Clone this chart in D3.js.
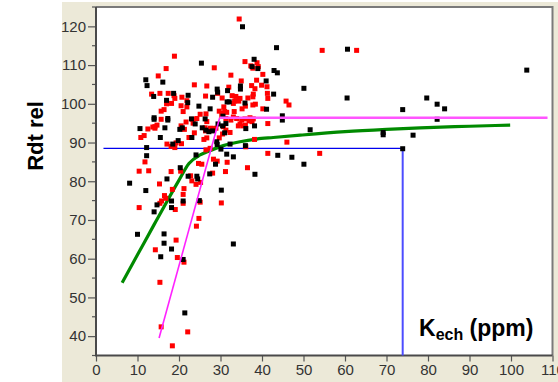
<!DOCTYPE html>
<html>
<head>
<meta charset="utf-8">
<script src="https://cdn.jsdelivr.net/npm/d3@7"></script>
<style>
  body { margin: 0; background: #fff; }
  svg { display: block; font-family: "Liberation Sans", Arial, sans-serif; }
</style>
</head>
<body>
<div id="chart"></div>
<script>
// tick values
var xTicks = [0, 10, 20, 30, 40, 50, 60, 70, 80, 90, 100, 110];
var yTicks = [40, 50, 60, 70, 80, 90, 100, 110, 120];
var yMinor = [35, 45, 55, 65, 75, 85, 95, 105, 115, 125];

// red points [K ppm, Rdt rel]
var redPts = [
  [18.9,112.3],[16.9,109.1],[15.0,107.2],[23.7,104.9],[13.4,102.5],[15.4,102.7],[17.4,102.7],
  [19.0,101.4],[18.8,102.1],[17.0,100.0],[18.2,100.1],[21.9,100.8],[20.5,99.5],[21.9,99.2],
  [21.0,98.0],[16.4,98.5],[15.7,98.1],[15.7,96.0],[21.7,95.3],[23.4,95.0],[20.5,94.3],
  [21.3,93.4],[13.7,94.0],[14.2,94.1],[14.2,93.7],[14.7,94.5],[12.5,93.5],[11.6,91.8],
  [10.8,91.3],[22.4,91.3],[23.7,92.5],[19.3,89.9],[17.1,89.6],[20.6,89.7],[18.1,89.0],
  [19.0,88.7],[11.8,85.0],[10.4,82.6],[12.7,82.7],[15.3,79.3],[18.1,82.5],[22.8,81.4],
  [23.1,80.1],[18.4,77.9],[21.2,78.1],[16.5,76.3],[16.8,75.6],[21.0,76.6],[15.8,74.9],
  [15.4,74.3],[19.1,72.7],[10.4,73.2],[19.3,64.8],[14.3,62.3],[19.6,60.3],[21.2,59.1],
  [24.2,68.4],[24.8,70.4],[15.4,53.9],[22.1,41.1],[15.7,42.4],[18.4,37.5],[21.0,74.3],
  [24.1,79.2],[25.1,74.6],[30.2,74.4],[24.7,84.6],[20.4,82.6],[25.5,84.4],[25.2,79.7],
  [34.5,121.9],[35.9,110.9],[28.5,109.3],[38.8,110.6],[39.1,109.6],[37.3,109.8],[37.8,109.2],
  [40.2,107.6],[32.5,107.4],[35.0,105.9],[26.7,104.6],[37.5,104.7],[38.7,106.1],[39.9,104.8],
  [41.2,104.4],[32.0,104.3],[29.3,102.7],[38.3,103.9],[37.9,102.5],[41.3,102.7],[41.4,101.4],
  [26.4,102.0],[30.4,101.5],[32.8,102.1],[33.7,101.9],[34.7,101.4],[36.6,101.5],[37.8,101.8],
  [33.4,100.7],[34.4,100.7],[33.1,100.1],[36.0,99.4],[37.8,99.7],[45.8,100.7],[46.5,99.7],
  [30.8,99.2],[35.2,98.7],[40.2,98.7],[20.7,101.7],[26.5,97.4],[23.3,96.0],[26.3,93.8],
  [26.4,93.0],[27.6,93.7],[28.4,93.6],[28.9,93.7],[26.7,91.2],[26.0,90.8],[29.7,91.2],
  [30.5,92.2],[31.3,93.2],[32.3,92.6],[29.7,98.1],[30.5,97.5],[31.0,98.0],[31.5,97.8],
  [30.3,97.0],[33.3,98.0],[25.1,97.3],[24.3,96.2],[26.7,95.4],[31.3,96.2],[32.5,95.8],
  [33.1,96.6],[33.9,96.2],[35.1,95.8],[35.9,96.1],[37.1,96.4],[37.9,96.1],[37.6,95.4],
  [36.9,95.6],[30.7,94.1],[34.7,94.8],[35.5,94.3],[34.3,94.3],[36.0,94.5],[41.4,94.9],
  [26.5,88.1],[27.5,88.5],[36.1,88.9],[38.2,90.8],[46.0,90.1],[28.3,85.7],[29.2,85.2],
  [31.6,84.9],[41.4,87.2],[53.9,87.2],[36.5,83.5],[31.2,82.5],[28.1,82.1],[54.5,113.8],
  [62.8,113.8],[38.4,99.9]
];

// black points [K ppm, Rdt rel]
var blackPts = [
  [12.0,106.2],[12.3,104.7],[16.1,105.6],[13.9,101.9],[18.7,102.7],[17.0,100.9],[22.2,102.2],
  [14.0,96.4],[14.0,96.0],[17.3,96.2],[17.3,95.8],[23.0,96.1],[20.2,93.4],[20.8,93.8],
  [16.6,93.8],[10.6,93.6],[15.5,91.3],[23.1,91.3],[19.8,90.5],[18.5,89.6],[12.2,88.7],
  [12.2,86.6],[8.1,79.5],[12.0,77.6],[17.1,80.6],[20.3,83.5],[22.2,81.3],[18.2,74.9],
  [21.0,74.9],[14.7,73.9],[18.2,73.2],[14.0,72.1],[10.0,66.3],[16.4,66.4],[16.4,64.0],
  [18.2,62.5],[15.6,60.5],[21.0,59.8],[21.4,46.0],[24.3,81.3],[24.5,80.6],[24.9,75.0],
  [24.8,99.4],[30.2,77.7],[33.1,63.8],
  [35.3,119.9],[43.5,114.5],[25.4,110.5],[38.1,111.5],[37.6,109.6],[39.0,109.1],[42.9,108.6],
  [43.7,108.0],[41.0,105.9],[34.8,104.6],[34.8,103.8],[29.2,103.8],[31.7,103.4],[42.8,102.5],
  [28.1,101.7],[31.6,100.5],[32.1,100.5],[35.9,100.2],[27.5,98.7],[41.1,98.6],[50.1,104.0],
  [60.5,101.5],[22.1,100.3],[29.3,103.0],[23.9,94.8],[25.6,93.8],[27.2,92.8],[29.1,90.2],
  [29.2,89.5],[30.1,88.3],[30.5,94.3],[31.3,94.9],[30.6,96.8],[36.1,93.6],[38.2,94.3],
  [32.3,89.6],[36.0,89.2],[31.5,87.0],[33.1,86.3],[28.8,84.4],[27.4,81.9],[38.3,81.8],
  [43.8,86.7],[47.2,86.2],[50.1,84.4],[51.6,93.3],[44.9,96.9],[44.9,95.8],[29.4,94.8],
  [26.5,93.2],[28.1,93.0],[31.0,92.5],[24.1,86.8],[26.3,96.1],
  [60.6,114.1],[73.9,98.5],[69.2,92.6],[69.2,92.0],[76.4,91.9],[73.9,88.4],[103.8,108.7],
  [79.7,101.5],[82.2,99.9],[84.0,98.7],[82.2,96.0]
];

// fitted curves
var greenCurve = [
  [6.3,53.8],[10,61],[14,68.8],[17,74.6],[19.8,79.9],[22.4,84.6],[25.1,86.8],[27.5,87.9],
  [30.7,89.2],[34.7,90.2],[38.7,90.9],[42.7,91.3],[49.2,91.9],[60,92.8],[70,93.4],
  [78.1,93.8],[90,94.2],[99.8,94.5]
];
var magentaSlope = [[15.2,39.5],[29.8,96.4]];
var magentaPlateau = [[29.8,96.4],[108.8,96.4]];
var blueH = [[1.8,88.5],[73.9,88.5]];
var blueV = [[73.9,88.5],[73.9,35]];

var W = 558, H = 382;
var plot = {left: 96, right: 552.5, top: 7, bottom: 355.5};

var svg = d3.select("#chart").append("svg")
    .attr("width", W)
    .attr("height", H);

// beige panel
svg.append("rect")
    .attr("x", 62).attr("y", 2)
    .attr("width", W - 62).attr("height", H - 2)
    .attr("fill", "#ece9d8");

var x = d3.scaleLinear().domain([0, 110]).range([plot.left, plot.right]);
var y = d3.scaleLinear().domain([35, 125]).range([plot.bottom, plot.top]);

svg.append("rect")
    .attr("x", plot.left).attr("y", plot.top)
    .attr("width", plot.right - plot.left).attr("height", plot.bottom - plot.top)
    .attr("fill", "#fff");

// frame top / right
svg.append("path")
    .attr("d", "M" + plot.left + "," + plot.top + "H" + plot.right + "V" + plot.bottom)
    .attr("fill", "none")
    .attr("stroke", "#7a7a7a")
    .attr("stroke-width", 2);

// y axis
var yAxis = d3.axisLeft(y).tickValues(yTicks).tickSize(8).tickPadding(2);
var gy = svg.append("g")
    .attr("transform", "translate(" + plot.left + ",0)")
    .call(yAxis);
gy.selectAll(".tick text").attr("font-size", 15).attr("fill", "#333")
    .attr("font-family", "Liberation Sans, Arial, sans-serif");
gy.selectAll(".tick line").attr("stroke", "#555").attr("stroke-width", 1.2);
gy.select(".domain").remove();
gy.selectAll(".minor").data(yMinor).enter().append("line")
    .attr("class", "minor")
    .attr("x1", -4).attr("x2", 0)
    .attr("y1", function(d) { return y(d); })
    .attr("y2", function(d) { return y(d); })
    .attr("stroke", "#555").attr("stroke-width", 1.2);

// x axis
var xAxis = d3.axisBottom(x).tickValues(xTicks).tickSize(6).tickPadding(3);
var gx = svg.append("g")
    .attr("transform", "translate(0," + plot.bottom + ")")
    .call(xAxis);
gx.selectAll(".tick text").attr("font-size", 15).attr("fill", "#333")
    .attr("font-family", "Liberation Sans, Arial, sans-serif");
gx.selectAll(".tick line").attr("stroke", "#555").attr("stroke-width", 1.2);
gx.select(".domain").remove();

// axis lines
svg.append("path")
    .attr("d", "M" + plot.left + "," + plot.top + "V" + plot.bottom + "H" + plot.right)
    .attr("fill", "none")
    .attr("stroke", "#4a4a4a")
    .attr("stroke-width", 2);

var line = d3.line()
    .x(function(d) { return x(d[0]); })
    .y(function(d) { return y(d[1]); });

// blue reference lines
svg.append("path").attr("d", line(blueH))
    .attr("fill", "none").attr("stroke", "#0000ee").attr("stroke-width", 1.4);
svg.append("path").attr("d", line(blueV))
    .attr("fill", "none").attr("stroke", "#4c4cff").attr("stroke-width", 2);

// green fit
svg.append("path")
    .attr("d", line.curve(d3.curveMonotoneX)(greenCurve))
    .attr("fill", "none").attr("stroke", "#008a00").attr("stroke-width", 3.2);
line.curve(d3.curveLinear);

// points
var sz = 5;
svg.selectAll("rect.red").data(redPts).enter().append("rect")
    .attr("class", "red")
    .attr("x", function(d) { return x(d[0]) - sz / 2; })
    .attr("y", function(d) { return y(d[1]) - sz / 2; })
    .attr("width", sz).attr("height", sz)
    .attr("fill", "#ff0000");
svg.selectAll("rect.blk").data(blackPts).enter().append("rect")
    .attr("class", "blk")
    .attr("x", function(d) { return x(d[0]) - sz / 2; })
    .attr("y", function(d) { return y(d[1]) - sz / 2; })
    .attr("width", sz).attr("height", sz)
    .attr("fill", "#000");

// magenta linear-plateau
svg.append("path").attr("d", line(magentaSlope))
    .attr("fill", "none").attr("stroke", "#ff22ff").attr("stroke-width", 1.6);
svg.append("path").attr("d", line(magentaPlateau))
    .attr("fill", "none").attr("stroke", "#ff55ff").attr("stroke-width", 2.4);

// y title
svg.append("text")
    .attr("transform", "translate(43,136) rotate(-90)")
    .attr("text-anchor", "middle")
    .attr("font-size", 22)
    .attr("font-weight", "bold")
    .attr("fill", "#000")
    .text("Rdt rel");

// x title inside plot
var xt = svg.append("text")
    .attr("x", 419).attr("y", 336)
    .attr("font-size", 23)
    .attr("font-weight", "bold")
    .attr("fill", "#000");
xt.append("tspan").text("K");
xt.append("tspan").attr("font-size", 16).attr("dy", 4).text("ech");
xt.append("tspan").attr("dy", -4).text(" (ppm)");
</script>
</body>
</html>
